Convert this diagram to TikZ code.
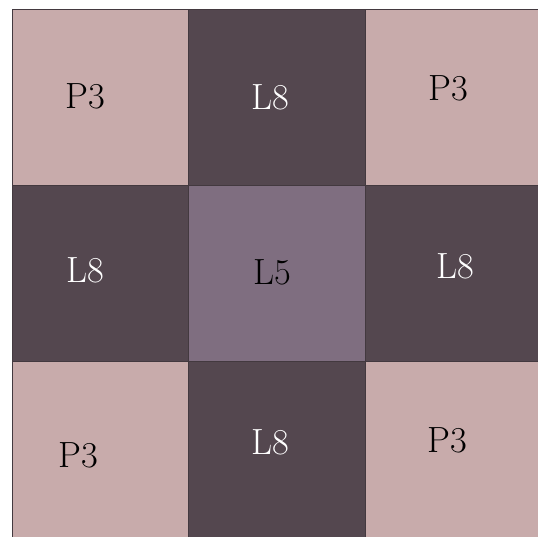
\documentclass[tikz,border=0pt]{standalone}
\usepackage{tikz}
\usetikzlibrary{positioning}
\definecolor{rosepatch}{HTML}{C8ABAB}
\definecolor{darkpatch}{HTML}{54474F}
\definecolor{midpatch}{HTML}{7F6E80}

\begin{document}
\begin{tikzpicture}[x=0.02cm, y=-0.02cm,
  patch/.style={draw=darkpatch!80!black, line width=0.4pt},
  lbl/.style={font=\huge, inner sep=0pt},
  lbldark/.style={lbl, text=white}
]
\useasboundingbox (0,0) rectangle (538,537);
\fill[white] (0,0) rectangle (538,537);
% top row
\draw[patch, fill=rosepatch] (12,9)   rectangle (188,185);
\draw[patch, fill=darkpatch] (188,9)  rectangle (365,185);
\draw[patch, fill=rosepatch] (365,9)  rectangle (538,185);
% middle row
\draw[patch, fill=darkpatch] (12,185)  rectangle (188,361);
\draw[patch, fill=midpatch]  (188,185) rectangle (365,361);
\draw[patch, fill=darkpatch] (365,185) rectangle (538,361);
% bottom row
\draw[patch, fill=rosepatch] (12,361)  rectangle (188,537);
\draw[patch, fill=darkpatch] (188,361) rectangle (365,537);
\draw[patch, fill=rosepatch] (365,361) rectangle (538,537);
% labels
\node[lbl]     (tl) at (85,96)   {P3};
\node[lbldark] (tm) at (270,97)  {L8};
\node[lbl]     (tr) at (448,88)  {P3};
\node[lbldark] (ml) at (85,270)  {L8};
\node[lbl]     (mm) at (272,272) {L5};
\node[lbldark] (mr) at (455,266) {L8};
\node[lbl]     (bl) at (78,455)  {P3};
\node[lbldark] (bm) at (270,442) {L8};
\node[lbl]     (br) at (447,440) {P3};
\end{tikzpicture}
\end{document}
